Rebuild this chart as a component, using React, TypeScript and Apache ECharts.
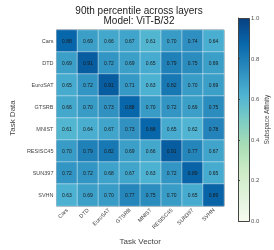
import React, { useEffect, useRef } from "react";
import * as echarts from "echarts";

const tasks = ["Cars", "DTD", "EuroSAT", "GTSRB", "MNIST", "RESISC45", "SUN397", "SVHN"];
const rowCars = [0.88, 0.69, 0.66, 0.67, 0.61, 0.7, 0.74, 0.64];
const rowDTD = [0.69, 0.91, 0.72, 0.69, 0.65, 0.79, 0.75, 0.69];
const rowEuroSAT = [0.65, 0.72, 0.91, 0.71, 0.63, 0.82, 0.7, 0.69];
const rowGTSRB = [0.66, 0.7, 0.73, 0.88, 0.7, 0.72, 0.69, 0.75];
const rowMNIST = [0.61, 0.64, 0.67, 0.73, 0.88, 0.65, 0.62, 0.78];
const rowRESISC45 = [0.7, 0.79, 0.82, 0.69, 0.66, 0.91, 0.77, 0.67];
const rowSUN397 = [0.72, 0.72, 0.68, 0.67, 0.63, 0.72, 0.89, 0.65];
const rowSVHN = [0.63, 0.69, 0.7, 0.77, 0.75, 0.7, 0.65, 0.89];
const matrix = [rowCars, rowDTD, rowEuroSAT, rowGTSRB, rowMNIST, rowRESISC45, rowSUN397, rowSVHN];
const colorbarMin = 0;
const colorbarMax = 1;
const colorbarStep = 0.2;
const gnbu = ["#f7fcf0", "#e0f3db", "#ccebc5", "#a8ddb5", "#7bccc4", "#4eb3d3", "#2b8cbe", "#0868ac", "#084081"];

const FONT = "Liberation Sans";

export default function App() {
  const ref = useRef<HTMLDivElement>(null);
  useEffect(() => {
    if (!ref.current) return;
    const chart = echarts.init(ref.current, undefined, { renderer: "svg" });
    const data: number[][] = [];
    matrix.forEach((row, yi) => row.forEach((v, xi) => data.push([xi, yi, v])));
    const stops = gnbu.map((c, i) => ({ offset: 1 - i / (gnbu.length - 1), color: c }));
    chart.setOption({
      animation: false,
      textStyle: { fontFamily: FONT },
      title: {
        text: "90th percentile across layers\nModel: ViT-B/32",
        left: 134,
        top: 0,
        textAlign: "center",
        textStyle: { fontSize: 10, fontWeight: "normal", color: "#222", lineHeight: 10.5, fontFamily: FONT },
      },
      grid: [
        { left: 44, top: 30, width: 180, height: 179, show: true, borderColor: "#444", borderWidth: 1, backgroundColor: "transparent" },
        { left: 238, top: 18, width: 11, height: 203, show: false },
      ],
      xAxis: [
        {
          type: "category",
          data: tasks,
          gridIndex: 0,
          axisLine: { show: false },
          axisTick: { show: false },
          splitLine: { show: false },
          axisLabel: { rotate: 45, fontSize: 5.5, color: "#444", margin: 3, interval: 0, fontFamily: FONT },
          name: "Task Vector",
          nameLocation: "middle",
          nameGap: 29,
          nameTextStyle: { fontSize: 8, color: "#444", fontFamily: FONT },
        },
        { type: "value", gridIndex: 1, show: false, min: 0, max: 1 },
      ],
      yAxis: [
        {
          type: "category",
          data: tasks,
          inverse: true,
          gridIndex: 0,
          axisLine: { show: false },
          axisTick: { show: false },
          splitLine: { show: false },
          axisLabel: { fontSize: 5.5, color: "#444", margin: 3, interval: 0, fontFamily: FONT },
          name: "Task Data",
          nameLocation: "middle",
          nameRotate: 90,
          nameGap: 33,
          nameTextStyle: { fontSize: 8, color: "#444", fontFamily: FONT },
        },
        {
          type: "value",
          gridIndex: 1,
          position: "right",
          min: colorbarMin,
          max: colorbarMax,
          interval: colorbarStep,
          axisLine: { show: true, lineStyle: { color: "#444", width: 1 } },
          axisTick: { show: true, length: 2, lineStyle: { color: "#444" } },
          splitLine: { show: false },
          axisLabel: { fontSize: 6, color: "#555", margin: 2, formatter: (v: number) => v.toFixed(1), fontFamily: FONT },
          name: "Subspace Affinity",
          nameLocation: "middle",
          nameRotate: 90,
          nameGap: 11,
          nameTextStyle: { fontSize: 6.5, color: "#444", fontFamily: FONT },
        },
      ],
      visualMap: {
        show: false,
        min: colorbarMin,
        max: colorbarMax,
        seriesIndex: 0,
        inRange: { color: gnbu },
      },
      graphic: [
        {
          type: "rect",
          left: 238,
          top: 18,
          z: 0,
          shape: { width: 11, height: 203 },
          style: {
            fill: new echarts.graphic.LinearGradient(0, 0, 0, 1, stops.slice().reverse()),
            stroke: "#444",
            lineWidth: 1,
          },
        },
      ],
      series: [
        {
          type: "heatmap",
          xAxisIndex: 0,
          yAxisIndex: 0,
          data,
          itemStyle: { borderColor: "rgba(255,255,255,0.55)", borderWidth: 0.8 },
          label: {
            show: true,
            fontSize: 5,
            color: "#1a1a1a",
            fontFamily: FONT,
            formatter: (p: any) => Number(p.value[2]).toFixed(2),
          },
          emphasis: { disabled: true },
        },
      ],
    });
    return () => chart.dispose();
  }, []);
  return <div ref={ref} style={{ position: "fixed", left: 0, top: 0, width: 274, height: 250 }} />;
}
